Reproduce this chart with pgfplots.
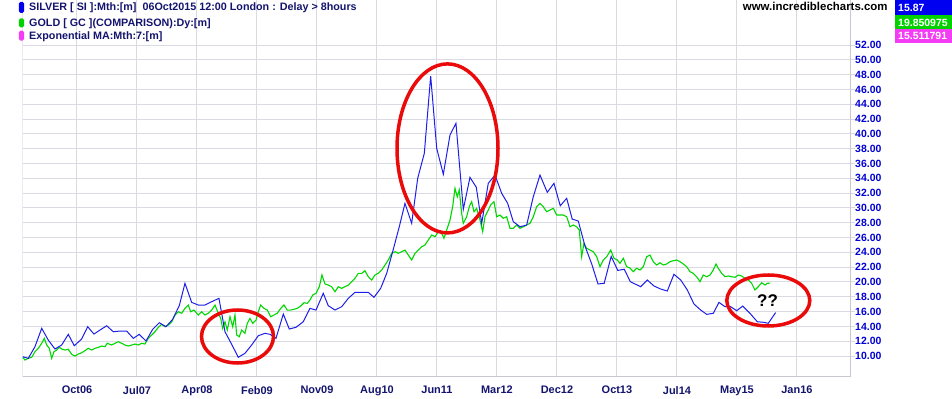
\documentclass[border=0pt]{standalone}
\usepackage{pgfplots}
\pgfplotsset{compat=1.18}
\usepackage{fontspec}
\setmainfont{Liberation Sans}
\usetikzlibrary{shapes.geometric}
\definecolor{silverblue}{RGB}{30,30,235}
\definecolor{goldgreen}{RGB}{0,215,0}
\definecolor{gridc}{RGB}{218,218,226}
\definecolor{axc}{RGB}{200,200,210}
\definecolor{navy}{RGB}{20,20,110}
\definecolor{ticklab}{RGB}{0,0,210}
\definecolor{boxblue}{RGB}{0,0,240}
\definecolor{boxgreen}{RGB}{0,210,0}
\definecolor{boxmag}{RGB}{245,60,245}
\definecolor{ellred}{RGB}{235,10,10}
\begin{document}
\begin{tikzpicture}
\useasboundingbox (-22.7bp,-22.3bp) rectangle (929.3bp,376.7bp);
\begin{axis}[
  at={(0,0)}, anchor=south west,
  scale only axis, width=828bp, height=376.7bp,
  xmin=0.63, xmax=128.29, ymin=7.21, ymax=58.08,
  axis x line*=bottom, axis y line*=right,
  axis line style={axc, line width=1bp},
  xtick={9,18.25,27.5,36.75,46,55.25,64.5,73.75,83,92.25,101.5,110.75,120},
  xticklabels={Oct06,Jul07,Apr08,Feb09,Nov09,Aug10,Jun11,Mar12,Dec12,Oct13,Jul14,May15,Jan16},
  ytick={10,12,...,52},
  grid=major, major grid style={gridc, line width=1bp},
  tick align=outside, major tick length=4bp,
  xtick style={draw=none},
  ytick style={gridc, line width=1bp},
  x tick label style={font=\bfseries\fontsize{11}{11}\selectfont, text=navy, yshift=-2bp},
  y tick label style={font=\bfseries\fontsize{10.5}{10.5}\selectfont, text=ticklab, xshift=-3bp,
    /pgf/number format/.cd, fixed, fixed zerofill, precision=2, assume math mode=true},
]
\draw[axc, line width=1bp] (rel axis cs:0,0) -- (rel axis cs:0,1);
\addplot[goldgreen, line width=1.1bp] coordinates {
(0.63,9.83)(0.98,9.46)(1.49,9.69)(2.02,9.83)(2.52,10.58)(3.03,11.04)(3.56,11.72)(3.96,12.39)(4.33,11.49)(4.73,11.04)(5.10,9.69)(5.45,10.58)(5.87,10.81)(6.27,11.18)(6.64,10.95)(7.15,10.81)(7.66,10.91)(8.18,10.23)(8.69,10.00)(9.20,10.27)(9.72,10.45)(10.23,10.72)(10.74,11.04)(11.27,10.81)(11.77,11.04)(12.28,11.18)(12.81,11.35)(13.32,11.26)(13.67,11.72)(14.35,11.49)(14.86,11.72)(15.37,11.93)(15.89,11.72)(16.40,11.49)(16.91,11.35)(17.43,11.49)(17.94,11.62)(18.45,11.49)(18.97,11.72)(19.48,11.62)(19.99,12.39)(20.52,12.84)(21.03,13.28)(21.53,13.88)(22.06,14.28)(22.57,13.96)(23.08,14.19)(23.60,14.59)(24.11,15.54)(24.62,15.98)(25.14,15.77)(25.65,16.44)(26.16,16.89)(26.53,15.98)(27.04,16.21)(27.70,15.54)(28.23,15.98)(28.73,15.54)(29.24,15.77)(29.77,16.21)(30.28,16.89)(30.78,15.77)(31.16,15.09)(31.46,13.74)(31.82,14.63)(32.17,13.51)(32.59,15.31)(33.01,13.96)(33.36,15.54)(33.62,12.84)(34.02,12.61)(34.39,13.51)(34.90,13.07)(35.26,14.42)(35.67,15.09)(36.09,14.42)(36.60,14.86)(36.95,15.98)(37.32,16.89)(37.83,16.44)(38.34,16.21)(38.86,15.31)(39.37,15.54)(39.88,15.77)(40.41,16.44)(40.91,16.89)(41.42,16.21)(41.95,16.21)(42.46,16.31)(42.97,16.44)(43.49,16.75)(44.00,17.20)(44.51,17.12)(44.92,17.56)(45.34,18.24)(45.85,18.47)(46.36,19.36)(46.77,20.94)(47.24,19.73)(47.74,19.59)(48.27,19.36)(48.78,18.69)(49.29,19.36)(49.81,19.14)(50.32,19.36)(50.83,19.59)(51.35,20.04)(51.86,20.50)(52.37,21.17)(52.89,21.17)(53.40,21.52)(53.91,20.71)(54.44,20.27)(54.94,20.94)(55.45,21.17)(55.98,21.62)(56.49,22.29)(57.00,22.97)(57.52,23.87)(58.03,24.09)(58.54,23.87)(59.06,24.09)(59.57,24.32)(60.08,23.64)(60.60,22.97)(61.11,23.87)(61.62,24.32)(62.15,24.76)(62.65,24.99)(63.16,25.67)(63.69,26.34)(64.20,26.11)(64.71,26.79)(65.23,26.57)(65.58,25.90)(66.09,27.25)(66.51,28.37)(66.92,30.16)(67.28,32.65)(67.63,31.51)(67.94,32.42)(68.31,29.27)(68.56,27.92)(69.08,28.81)(69.48,30.16)(69.85,30.84)(70.21,29.49)(70.62,29.95)(71.13,28.37)(71.55,26.79)(71.90,28.81)(72.41,29.72)(72.78,30.39)(73.29,30.84)(73.71,28.81)(74.22,29.04)(74.73,28.60)(75.25,28.81)(75.76,27.25)(76.27,27.25)(76.79,27.69)(77.30,27.25)(77.81,27.46)(78.33,27.69)(78.84,27.92)(79.35,28.81)(79.87,30.16)(80.38,30.62)(80.89,30.16)(81.42,29.49)(81.93,29.72)(82.44,29.95)(82.96,29.04)(83.47,29.04)(83.98,29.04)(84.50,28.81)(85.01,27.46)(85.52,27.69)(86.04,27.46)(86.44,27.02)(86.81,23.41)(87.17,25.22)(87.58,24.55)(88.09,24.32)(88.60,24.09)(89.13,23.41)(89.64,22.06)(90.14,22.97)(90.67,23.41)(91.29,24.32)(91.79,23.20)(92.30,22.97)(92.72,22.52)(93.23,23.20)(93.75,22.06)(94.26,21.89)(94.77,21.39)(95.29,21.85)(95.80,21.62)(96.31,22.06)(96.83,23.41)(97.34,23.64)(97.85,22.74)(98.38,22.29)(98.89,22.60)(99.40,22.29)(99.92,22.43)(100.43,22.74)(100.94,22.87)(101.46,22.97)(101.97,22.74)(102.48,22.43)(103.00,22.06)(103.51,21.39)(104.02,21.17)(104.54,20.71)(105.05,20.04)(105.56,20.94)(106.09,20.71)(106.60,20.94)(107.10,21.62)(107.52,22.43)(107.87,21.85)(108.40,21.17)(108.91,20.71)(109.42,20.81)(109.94,20.71)(110.45,20.63)(110.96,20.94)(111.48,20.81)(111.99,20.50)(112.50,20.27)(113.02,19.82)(113.53,18.92)(114.04,19.36)(114.57,19.90)(115.08,19.59)(115.43,19.82)(115.85,19.85)
};
\addplot[silverblue, line width=1bp] coordinates {
(0.63,9.91)(1.49,9.69)(2.52,11.26)(3.56,13.74)(4.57,12.16)(5.61,10.95)(6.64,11.49)(7.66,12.93)(8.58,11.39)(9.72,12.30)(10.65,13.96)(11.62,12.97)(12.55,13.51)(13.58,14.09)(14.60,13.28)(15.63,13.38)(16.66,13.38)(17.68,12.39)(18.60,12.93)(19.64,12.03)(20.67,13.61)(21.69,14.50)(22.72,13.96)(23.75,14.96)(24.77,16.80)(25.65,19.82)(26.68,17.25)(27.70,16.89)(28.73,16.89)(29.77,17.34)(30.89,17.79)(31.82,13.28)(32.85,11.58)(33.87,9.83)(34.90,10.37)(35.93,11.49)(36.95,12.74)(37.99,13.07)(38.76,12.93)(39.68,12.39)(40.81,15.67)(41.73,13.65)(42.76,13.88)(43.89,14.63)(44.92,16.44)(45.85,16.21)(46.97,18.47)(47.74,16.80)(48.78,16.21)(49.81,16.66)(50.83,17.79)(51.86,18.60)(52.89,18.60)(53.91,18.60)(54.79,17.93)(55.82,19.14)(56.75,21.17)(57.67,24.09)(58.69,27.46)(59.57,30.62)(60.60,27.92)(61.53,34.00)(62.55,37.37)(63.53,47.81)(64.46,38.05)(65.48,34.54)(66.51,39.85)(67.43,41.43)(68.56,29.81)(69.59,34.13)(70.56,32.80)(71.40,27.92)(72.41,33.32)(73.45,34.44)(74.48,31.97)(75.40,30.62)(76.27,28.14)(77.30,27.46)(78.33,27.69)(79.35,31.51)(80.38,34.44)(81.51,32.11)(82.54,33.32)(83.51,30.29)(84.50,31.30)(85.35,28.50)(86.29,28.23)(87.32,24.86)(88.36,22.43)(89.33,19.73)(90.28,19.82)(91.36,23.45)(92.38,21.56)(93.37,21.72)(94.32,20.04)(95.91,19.36)(96.93,20.27)(97.96,19.46)(98.99,19.05)(100.01,18.78)(101.04,21.04)(102.08,20.27)(103.10,18.92)(104.13,17.02)(105.16,16.21)(106.09,15.63)(107.10,15.77)(107.98,17.25)(108.91,16.66)(109.79,16.66)(110.71,16.12)(111.64,16.75)(112.76,15.77)(113.89,14.63)(114.92,14.55)(115.58,14.42)(116.72,15.87)
};
\end{axis}
% legend
\fill[boxblue, rounded corners=1.5bp] (-3.7bp,363.7bp) rectangle (1.3bp,374.7bp);
\fill[boxgreen, rounded corners=1.5bp] (-3.7bp,349.4bp) rectangle (1.3bp,358.4bp);
\fill[boxmag, rounded corners=1.5bp] (-3.7bp,336bp) rectangle (1.3bp,346bp);
\node[anchor=base west, inner sep=0, text=navy, font=\bfseries\fontsize{10.8}{10.8}\selectfont] at (6.3bp,365.7bp) {SILVER [ SI ]:Mth:[m]\ \ 06Oct2015 12:00 London : Delay > 8hours};
\node[anchor=base west, inner sep=0, text=navy, font=\bfseries\fontsize{10.8}{10.8}\selectfont] at (6.3bp,350bp) {GOLD [ GC ](COMPARISON):Dy:[m]};
\node[anchor=base west, inner sep=0, text=navy, font=\bfseries\fontsize{10.8}{10.8}\selectfont] at (6.3bp,337.4bp) {Exponential MA:Mth:7:[m]};
% site
\node[anchor=base west, inner sep=0, font=\bfseries\fontsize{11.5}{11.5}\selectfont] at (720bp,366bp) {www.incrediblecharts.com};
% value boxes
\fill[boxblue] (872.3bp,361.7bp) rectangle (929.3bp,376.7bp);
\fill[boxgreen] (872.3bp,347.7bp) rectangle (929.3bp,361.7bp);
\fill[boxmag] (872.3bp,333.7bp) rectangle (929.3bp,347.7bp);
\node[anchor=base west, inner sep=0, text=white, font=\bfseries\fontsize{10.5}{10.5}\selectfont] at (875.3bp,365bp) {15.87};
\node[anchor=base west, inner sep=0, text=white, font=\bfseries\fontsize{10.5}{10.5}\selectfont] at (875.3bp,350bp) {19.850975};
\node[anchor=base west, inner sep=0, text=white, font=\bfseries\fontsize{10.5}{10.5}\selectfont] at (875.3bp,336.7bp) {15.511791};
% annotations
\node[draw=ellred, line width=3.5bp, ellipse, minimum width=72bp, minimum height=53bp, inner sep=0] at (214.8bp,40.2bp) {};
\node[draw=ellred, line width=3.5bp, ellipse, minimum width=101bp, minimum height=169bp, inner sep=0] at (424.8bp,228.3bp) {};
\node[draw=ellred, line width=3.5bp, ellipse, minimum width=83bp, minimum height=51bp, inner sep=0] at (745.6bp,76.2bp) {};
\node[font=\bfseries\fontsize{17}{17}\selectfont] at (744.8bp,75.7bp) {??};
\end{tikzpicture}
\end{document}
